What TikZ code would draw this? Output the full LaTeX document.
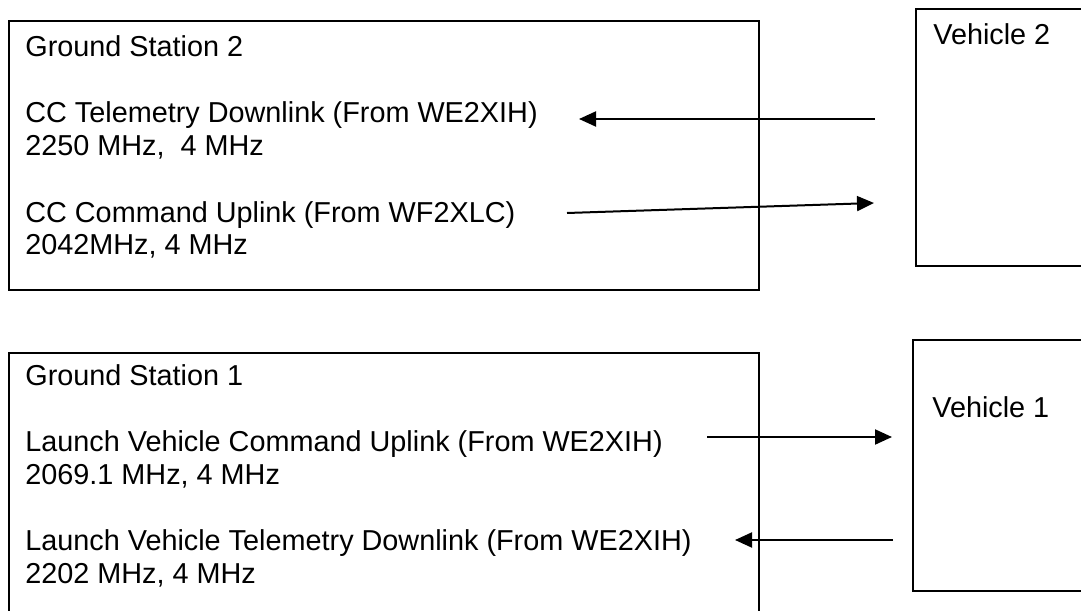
\documentclass[tikz,border=0pt]{standalone}
\usepackage{fontspec}
\setmainfont{Liberation Sans}
\usetikzlibrary{arrows.meta, positioning}

\begin{document}
\begin{tikzpicture}[
    x=0.02cm, y=-0.02cm,
    box/.style={rectangle, draw, line width=0.04cm, anchor=north west, inner sep=0pt},
    txt/.style={anchor=base west, inner sep=0pt, font=\fontsize{16.4}{19.5}\selectfont},
    link/.style={line width=0.04cm, -{Triangle[length=0.34cm, width=0.3cm]}}
]
    \useasboundingbox (0,0) rectangle (1081,611);
    \clip (0,0) rectangle (1081,611);

    % Ground Station 2
    \node[box, minimum width=15cm, minimum height=5.38cm] (gs2) at (8,20) {};
    \node[txt] (gs2name) at (25,57) {Ground Station 2};
    \node[txt] (gs2tlm) at (25,123) {CC Telemetry Downlink (From WE2XIH)};
    \node[txt] (gs2tlmf) at (25,156) {2250 MHz,\ \ 4 MHz};
    \node[txt] (gs2cmd) at (25,222) {CC Command Uplink (From WF2XLC)};
    \node[txt] (gs2cmdf) at (25,255) {2042MHz, 4 MHz};

    % Ground Station 1
    \node[box, minimum width=15cm, minimum height=5.5cm] (gs1) at (8,352) {};
    \node[txt] (gs1name) at (25,385) {Ground Station 1};
    \node[txt] (gs1cmd) at (25,451) {Launch Vehicle Command Uplink (From WE2XIH)};
    \node[txt] (gs1cmdf) at (25,484) {2069.1 MHz, 4 MHz};
    \node[txt] (gs1tlm) at (25,550) {Launch Vehicle Telemetry Downlink (From WE2XIH)};
    \node[txt] (gs1tlmf) at (25,583) {2202 MHz, 4 MHz};

    % Vehicles
    \node[box, minimum width=3.7cm, minimum height=5.14cm] (veh2) at (915,8) {};
    \node[txt] (veh2name) at (933,45) {Vehicle 2};
    \node[box, minimum width=3.8cm, minimum height=5.02cm] (veh1) at (912,339) {};
    \node[txt] (veh1name) at (932,417) {Vehicle 1};

    % link ends
    \coordinate (dn2a) at (875,119);
    \coordinate (dn2b) at (579,119);
    \coordinate (up2a) at (567,213);
    \coordinate (up2b) at (874,203);
    \coordinate (up1a) at (707,437);
    \coordinate (up1b) at (892,437);
    \coordinate (dn1a) at (893,540);
    \coordinate (dn1b) at (735,540);

    \draw[link] (dn2a) -- (dn2b);
    \draw[link] (up2a) -- (up2b);
    \draw[link] (up1a) -- (up1b);
    \draw[link] (dn1a) -- (dn1b);
\end{tikzpicture}
\end{document}
